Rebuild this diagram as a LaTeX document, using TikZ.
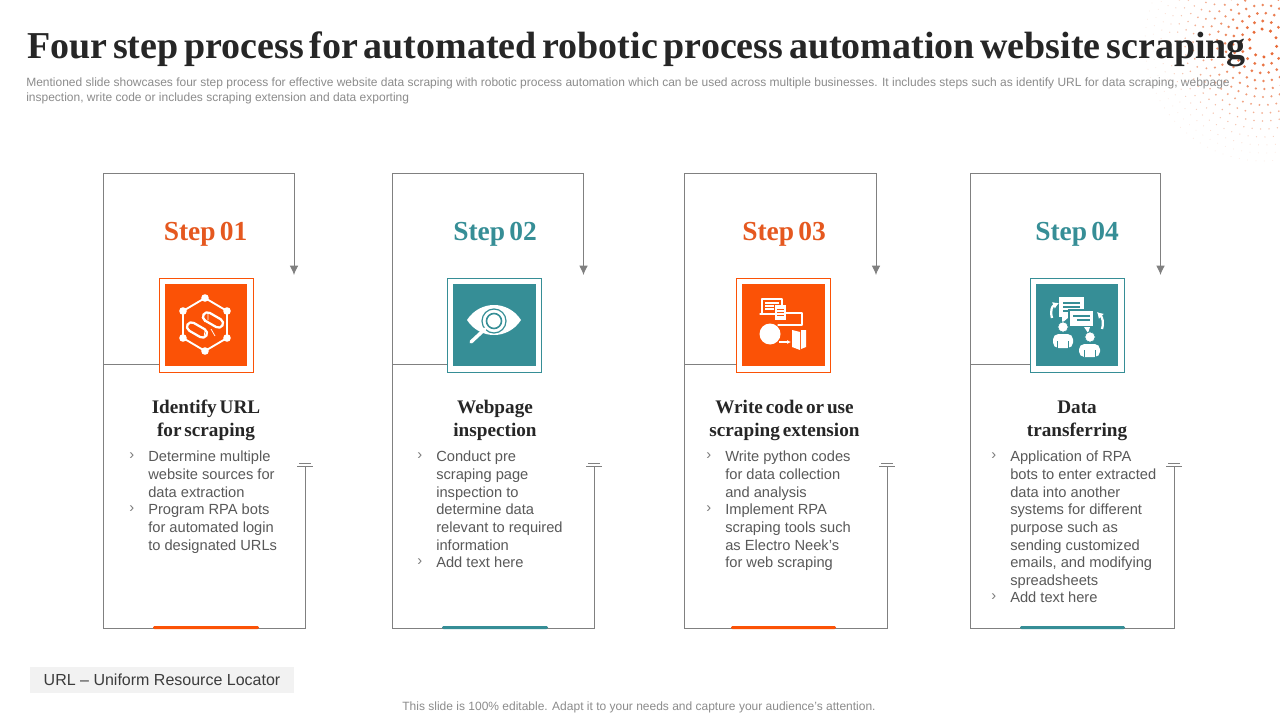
\documentclass[tikz,border=0pt]{standalone}
\usepackage{fontspec}
\usepackage{xcolor}
\setmainfont{Liberation Sans}
\newfontfamily\headfont[WordSpace=0.6]{Liberation Serif}
\usetikzlibrary{calc,arrows.meta}
\definecolor{orange}{HTML}{FB5206}
\definecolor{orangetxt}{HTML}{E5581F}
\definecolor{teal}{HTML}{368E96}
\definecolor{frame}{HTML}{808080}
\definecolor{body}{HTML}{595959}
\definecolor{titletxt}{HTML}{262626}
\definecolor{note}{HTML}{8C8C8C}
\tikzset{
  framel/.style={draw=frame, line width=0.75pt},
  title/.style={font=\headfont\bfseries\fontsize{28.5}{32}\selectfont, text=titletxt, anchor=base west, inner sep=0pt},
  sub/.style={font=\fontsize{9}{10.6}\selectfont, text=note, anchor=north west, inner sep=0pt, align=left},
  steplab/.style={font=\headfont\bfseries\fontsize{20.6}{24}\selectfont, inner sep=0pt, anchor=base},
  head/.style={font=\headfont\bfseries\fontsize{14.4}{17.3}\selectfont, text=titletxt, align=center, inner sep=0pt, anchor=north},
  txt/.style={font=\fontsize{11}{13.25}\selectfont, text=body, align=left, inner sep=0pt, anchor=north west},
  bul/.style={font=\fontsize{11}{13.25}\selectfont, text=body!80, inner sep=0pt, anchor=north west},
  iconbox/.style={draw=#1, line width=0.75pt, fill=white, minimum size=70.5pt, inner sep=0pt},
  iconfill/.style={fill=#1, minimum size=62pt, inner sep=0pt},
  wline/.style={draw=white, line width=1.4pt, line cap=round, line join=round},
}
\begin{document}
\begin{tikzpicture}[x=0.75pt,y=-0.75pt]
  \useasboundingbox (0,0) rectangle (1280,720);
  \clip (0,0) rectangle (1280,720);
  \fill[white] (0,0) rectangle (1280,720);
  % halftone corner
  \foreach \r in {14,22,...,118}{
    \pgfmathsetmacro{\num}{int(\r*0.75)}
    \pgfmathsetmacro{\dotr}{max(0.4,1.9-\r*0.0135)}
    \pgfmathsetmacro{\shade}{max(18,100-\r*0.75)}
    \foreach \k in {1,...,\num}{
      \fill[orangetxt!\shade!white] ($(1263,43)+({\k/\num*360+\r}:\r)$) circle[radius=\dotr];
    }
  }
  \node[title] (maintitle) at (27,59) {Four step process for automated robotic process automation website scraping};
  \node[sub] (subtitle) at (26,78) {Mentioned slide showcases four step process for effective website data scraping with robotic process automation which can be used across multiple businesses. It includes steps such as identify URL for data scraping, webpage\\inspection, write code or includes scraping extension and data exporting};
  % frames
  \foreach \l/\tr/\br/\ic/\barl/\barr/\col/\n in {103/294/305/206/153/259/orange/a,392/583.5/594/494.5/442/548/teal/b,684.5/876/887/783.5/731/836/orange/c,970/1160.5/1174/1077/1020/1125/teal/d}{
    \node[iconbox=\col] (box\n) at (\ic,325) {};
    \node[iconfill=\col] (fill\n) at (\ic,325) {};
    \coordinate (tip\n) at (\tr,275);
    \coordinate (corner\n) at (\l,173.5);
    \coordinate (left\n) at (\l,364);
    \coordinate (tee\n) at (\br,466);
    \draw[framel] (\tr,173.5) -- (corner\n);
    \draw[framel,-{Latex[length=7pt,width=6.5pt]}] (\tr,173.5) -- (tip\n);
    \draw[framel] (corner\n) -- (\l,628) -- (\br,628) -- (tee\n);
    \draw[framel] (left\n) -- (box\n.west |- left\n);
    \draw[framel,line width=0.6pt] ($(tee\n)+(-8,0)$) -- ($(tee\n)+(8,0)$);
    \draw[framel,line width=0.6pt] ($(tee\n)+(-6,-2.5)$) -- ($(tee\n)+(6,-2.5)$);
    \fill[\col,rounded corners=1pt] (\barl,629) -- (\barl,626) -- (\barr,626) -- (\barr,629) -- cycle;
  }
  % step labels
  \node[steplab,text=orangetxt] (stepa) at (205.5,240) {Step 01};
  \node[steplab,text=teal] (stepb) at (495,240) {Step 02};
  \node[steplab,text=orangetxt] (stepc) at (784,240) {Step 03};
  \node[steplab,text=teal] (stepd) at (1077,240) {Step 04};
  % heads
  \node[head] (heada) at (206,399.5) {Identify URL\\for scraping};
  \node[head] (headb) at (495,399.5) {Webpage\\inspection};
  \node[head] (headc) at (784.5,399.5) {Write code or use\\scraping extension};
  \node[head] (headd) at (1077,400.5) {Data\\transferring};
  % lists
  \node[bul] (bula) at (129,452.5) {›};
  \node[txt] (txta) at (148,450.8) {Determine multiple\\website sources for\\data extraction};
  \node[bul] (bulaa) at (129,505.5) {›};
  \node[txt] (txtaa) at (148,503.8) {Program RPA bots\\for automated login\\to designated URLs};
  \node[bul] (bulb) at (417,452.5) {›};
  \node[txt] (txtb) at (436,450.8) {Conduct pre\\scraping page\\inspection to\\determine data\\relevant to required\\information};
  \node[bul] (bulbb) at (417,558.5) {›};
  \node[txt] (txtbb) at (436,556.8) {Add text here};
  \node[bul] (bulc) at (706,452.5) {›};
  \node[txt] (txtc) at (725,450.8) {Write python codes\\for data collection\\and analysis};
  \node[bul] (bulcc) at (706,505.5) {›};
  \node[txt] (txtcc) at (725,503.8) {Implement RPA\\scraping tools such\\as Electro Neek’s\\for web scraping};
  \node[bul] (buld) at (991,452.5) {›};
  \node[txt] (txtd) at (1010,450.8) {Application of RPA\\bots to enter extracted\\data into another\\systems for different\\purpose such as\\sending customized\\emails, and modifying\\spreadsheets};
  \node[bul] (buldd) at (991,593.5) {›};
  \node[txt] (txtdd) at (1010,591.8) {Add text here};
  % icon 1
  \draw[wline] (205,298) -- (227,311) -- (227,338) -- (205,351) -- (183,338) -- (183,311) -- cycle;
  \foreach \p in {(205,298),(227,311),(227,338),(205,351),(183,338),(183,311)}{
    \fill[white] \p circle[radius=3.8];
  }
  \draw[wline,line width=1.7pt,rounded corners=3.5pt,rotate around={-30:(197,330)}] (186,325.5) rectangle (208,334.5);
  \draw[wline,line width=1.7pt,rounded corners=3.5pt,rotate around={-30:(213,320)}] (202,315.5) rectangle (224,324.5);
  \draw[white,line width=0.6pt] (202,317) -- (205,322) (208,313) -- (208,320) (215,336) -- (211,329) (204,337) -- (205,331);
  % icon 2
  \fill[white] (467,320) .. controls (480,300) and (508,300) .. (521,320) .. controls (508,340) and (480,340) .. (467,320) -- cycle;
  \draw[teal,line width=0.9pt] (494,321) circle[radius=12];
  \draw[teal,line width=1.2pt] (494,321) circle[radius=7.5];
  \fill[white] (494,321) circle[radius=6];
  \draw[white,line width=2.6pt,line cap=round] (485,329) -- (471,342);
  % icon 3
  \draw[wline,line width=1pt] (762,313) -- (762,299) -- (782,299) -- (782,305);
  \draw[wline,line width=1pt] (760,314) -- (775,314);
  \draw[white,line width=0.9pt] (765,303) -- (779,303) (765,306) -- (774,306) (765,309) -- (774,309);
  \fill[white] (775,305) rectangle (786,320);
  \draw[orange,line width=0.6pt] (777,309) -- (784,309) (777,312) -- (784,312) (777,315) -- (784,315);
  \draw[wline,line width=1pt] (786,313) -- (802,313) -- (802,325) -- (778,325);
  \fill[white] (770,334) circle[radius=10.5];
  \draw[white,line width=0.9pt,-{Latex[length=3pt,width=3pt]}] (779,342) -- (791,342);
  \fill[white] (792,330) -- (800,332) -- (800,350) -- (792,347) -- cycle;
  \fill[white] (801,330) -- (806,330) -- (806,347) -- (801,349) -- cycle;
  % icon 4
  \fill[white] (1059,297) rectangle (1084,317);
  \fill[white] (1062,317) -- (1069,317) -- (1062,323) -- cycle;
  \draw[teal,line width=0.8pt] (1063,303) -- (1080,303) (1063,307) -- (1080,307) (1063,311) -- (1076,311);
  \fill[white,draw=teal,line width=0.8pt] (1069,310) rectangle (1094,327);
  \fill[white] (1084,327) -- (1090,327) -- (1088,333) -- cycle;
  \draw[teal,line width=0.8pt] (1073,316) -- (1090,316) (1077,320) -- (1090,320);
  \fill[white,draw=teal,line width=0.5pt] (1063,327) circle[radius=5.2];
  \fill[white,rounded corners=4pt] (1053,348) -- (1053,334) -- (1073,334) -- (1073,348) -- cycle;
  \draw[teal,line width=0.6pt] (1057.5,348) -- (1057.5,341) (1068.5,348) -- (1068.5,341);
  \fill[white,draw=teal,line width=0.5pt] (1090,337) circle[radius=5.2];
  \fill[white,rounded corners=4pt] (1079,357) -- (1079,344) -- (1100,344) -- (1100,357) -- cycle;
  \draw[teal,line width=0.6pt] (1084,357) -- (1084,350) (1095,357) -- (1095,350);
  \draw[white,line width=1.7pt,-{Latex[length=4.5pt,width=5.5pt]}] (1052,318) .. controls (1050,311) and (1052,306) .. (1059,303);
  \draw[white,line width=1.7pt,-{Latex[length=4.5pt,width=5.5pt]}] (1102,329) .. controls (1104,322) and (1102,317) .. (1097,312);
  % footer
  \node[fill=black!5, minimum width=198pt, minimum height=19.5pt, inner sep=0pt, font=\fontsize{12}{14}\selectfont, text=titletxt!90] (urlnote) at (162,680) {URL – Uniform Resource Locator};
  \node[font=\fontsize{9}{11}\selectfont, text=note, inner sep=0pt] (editnote) at (639,707) {This slide is 100\% editable. Adapt it to your needs and capture your audience’s attention.};
\end{tikzpicture}
\end{document}
